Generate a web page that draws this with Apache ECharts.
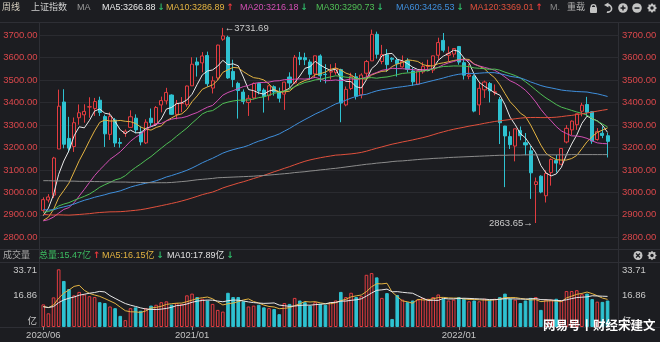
<!DOCTYPE html>
<html>
<head>
<meta charset="utf-8">
<script src="https://cdn.jsdelivr.net/npm/echarts@6/dist/echarts.min.js"></script>
<style>
  html, body { margin: 0; padding: 0; background: #1c1d21; }
  #chart { width: 660px; height: 342px; }
</style>
</head>
<body>
<div id="chart"></div>
<script>
// 上证指数 周线, 2020/06/19 – 2022/08/05
const weeks = [
  '2020/06/19','2020/06/24','2020/07/03','2020/07/10','2020/07/17','2020/07/24','2020/07/31','2020/08/07','2020/08/14','2020/08/21',
  '2020/08/28','2020/09/04','2020/09/11','2020/09/18','2020/09/25','2020/09/30','2020/10/09','2020/10/16','2020/10/23','2020/10/30',
  '2020/11/06','2020/11/13','2020/11/20','2020/11/27','2020/12/04','2020/12/11','2020/12/18','2020/12/25','2020/12/31',
  '2021/01/08','2021/01/15','2021/01/22','2021/01/29','2021/02/05','2021/02/10','2021/02/19','2021/02/26','2021/03/05','2021/03/12',
  '2021/03/19','2021/03/26','2021/04/02','2021/04/09','2021/04/16','2021/04/23','2021/04/30','2021/05/07','2021/05/14','2021/05/21',
  '2021/05/28','2021/06/04','2021/06/11','2021/06/18','2021/06/25','2021/07/02','2021/07/09','2021/07/16','2021/07/23','2021/07/30',
  '2021/08/06','2021/08/13','2021/08/20','2021/08/27','2021/09/03','2021/09/10','2021/09/17','2021/09/24','2021/09/30','2021/10/08',
  '2021/10/15','2021/10/22','2021/10/29','2021/11/05','2021/11/12','2021/11/19','2021/11/26','2021/12/03','2021/12/10','2021/12/17',
  '2021/12/24','2021/12/31',
  '2022/01/07','2022/01/14','2022/01/21','2022/01/28','2022/02/11','2022/02/18','2022/02/25','2022/03/04','2022/03/11','2022/03/18',
  '2022/03/25','2022/04/01','2022/04/08','2022/04/15','2022/04/22','2022/04/29','2022/05/06','2022/05/13','2022/05/20','2022/05/27',
  '2022/06/02','2022/06/10','2022/06/17','2022/06/24','2022/07/01','2022/07/08','2022/07/15','2022/07/22','2022/07/29','2022/08/05'
];

const opens = [
  2920,2966,2988,3193,3402,3240,3204,3332,3345,3380, 3373,3410,3337,3258,3322,3222,3262,3289,3330,3268,
  3220,3330,3305,3389,3407,3433,3347,3395,3390,
  3474,3580,3576,3609,3464,3509,3681,3690,3538,3485, 3446,3400,3420,3484,3455,3430,3470,3446,3437,3513,
  3487,3601,3599,3580,3527,3607,3525,3535,3533,3546, 3389,3462,3514,3434,3530,3585,3703,3582,3612,3597,
  3589,3558,3585,3540,3481,3536,3560,3544,3610,3676, 3610,3615,
  3649,3577,3516,3517,3389,3456,3484,3444,3413,3295, 3248,3206,3275,3221,3185,3035,3072,2985,3088,3142,
  3125,3224,3278,3301,3361,3391,3359,3235,3263,3252
];
const highs = [
  2978,2992,3158,3456.97,3458.79,3336,3333,3391,3392,3423, 3420,3425.63,3346,3356,3331,3242,3280,3365,3347,3294,
  3325,3373,3384,3426,3465,3436,3411,3424,3474.92,
  3601,3600,3624,3626,3516,3657,3731.69,3697,3590,3492, 3458,3433,3489,3489,3463,3476,3476,3466,3492,3534,
  3611,3624.71,3621,3591,3608,3614,3570,3570,3575,3550, 3471,3532,3531,3530,3589,3723.85,3715,3656,3637,3601,
  3599,3609,3597,3555,3543,3579,3590,3607,3688,3708.94, 3649,3642,
  3651,3600,3570,3524,3491,3497,3491,3480,3424,3296, 3271,3283,3293,3264,3207,3066,3076,3098,3151,3167,
  3196,3299,3320,3350,3398.62,3424.84,3361,3286,3294,3265
];
const lows = [
  2910,2955,2975,3193,3196,3178,3180,3301,3310,3332, 3340,3340,3202,3233,3202,3199,3247,3289,3263,3209,
  3215,3292,3296,3356,3391,3344,3325,3357,3381,
  3474,3515,3534,3470,3440,3499,3674,3505,3468,3328, 3392,3340,3413,3436,3355,3409,3430,3400,3367,3466,
  3482,3566,3566,3501,3512,3491,3485,3502,3523,3312, 3383,3455,3413,3418,3507,3585,3595,3570,3536,3580,
  3515,3555,3533,3474,3477,3528,3546,3531,3589,3623, 3582,3601,
  3568,3502,3503,3356,3344,3420,3400,3432,3215,3023.30, 3193,3138,3232,3165,2971,2863.65,2996,2955,3030,3088,
  3120,3218,3255,3278,3338,3340,3216,3230,3241,3155.19
];
const closes = [
  2967.63,2979.55,3152.81,3383.32,3214.13,3196.77,3310.01,3354.04,3360.10,3380.68,
  3403.81,3355.37,3260.35,3338.09,3219.42,3218.05,3272.08,3336.36,3278.00,3224.53,
  3312.16,3310.10,3377.73,3408.31,3444.58,3347.19,3394.90,3396.56,3473.07,
  3570.11,3566.38,3606.75,3483.07,3496.33,3655.09,3696.17,3509.08,3501.99,3453.08,
  3404.66,3418.33,3484.39,3450.68,3426.62,3474.17,3446.86,3418.87,3490.38,3486.56,
  3600.78,3591.84,3589.75,3525.10,3607.56,3518.76,3524.09,3539.30,3550.40,3397.36,
  3458.23,3516.30,3427.33,3522.16,3581.73,3703.11,3613.97,3613.07,3568.17,3592.17,
  3572.37,3582.60,3547.34,3491.57,3539.10,3560.37,3564.09,3607.43,3666.35,3632.36,
  3618.05,3639.78,
  3579.54,3521.26,3522.57,3361.44,3462.95,3490.76,3451.41,3447.65,3309.75,3251.07,
  3212.24,3282.72,3251.85,3211.24,3086.92,3047.06,3001.56,3084.28,3146.57,3130.24,
  3195.47,3284.83,3316.79,3349.75,3387.64,3356.08,3228.06,3269.97,3253.24,3227.03
];
// weekly volume, 亿
const volumes = [
  13.2,8.0,17.3,33.71,26.9,22.2,18.5,20.5,19.0,18.0, 17.5,14.5,14.0,12.0,11.0,6.5,4.0,11.0,11.5,9.5,
  11.0,12.5,13.0,14.5,15.0,13.0,14.0,13.5,18.5,
  19.5,17.5,16.5,15.5,13.5,10.0,9.0,20.0,17.5,17.5, 15.0,12.0,12.5,13.0,11.5,11.0,10.5,7.5,14.0,13.5,
  17.0,15.5,14.5,12.5,14.5,13.5,13.0,14.5,15.5,20.5, 17.5,20.0,17.5,18.0,30.5,31.5,29.0,17.0,19.8,4.7,
  18.7,16.0,14.5,15.5,16.0,17.0,16.5,17.5,19.0,16.5, 15.5,16.0,
  17.5,16.5,15.0,15.5,15.0,16.5,16.0,16.5,17.5,19.5, 16.5,16.0,14.0,15.5,17.0,17.5,10.0,16.0,16.0,16.5,
  15.5,21.0,21.0,21.5,19.15,19.5,16.3,14.8,14.68,15.47
];
// closes and volumes of the weeks before 2020/06/19 (feed the moving averages)
const priorCloses = [
  3199.16,3289.02,3254.53,3307.17,3269.88,3152.76,3168.90,3131.11,3159.05,3071.54,
  3082.23,3091.03,3163.26,3193.30,3141.30,3075.14,3067.15,3021.90,2889.76,2847.42,
  2747.23,2831.18,2829.27,2873.59,2740.44,2795.31,2668.97,2729.43,2725.25,2702.30,
  2681.64,2797.48,2821.35,2606.91,2550.47,2598.85,2676.48,2598.87,2679.11,2579.48,
  2588.19,2605.89,2593.74,2516.25,2493.90,
  2514.87,2553.83,2596.01,2601.72,2618.23,2682.39,2804.23,2994.01,2969.86,3021.75,
  3104.15,3090.76,3246.57,3188.63,3270.80,3086.40,3078.34,2939.21,2882.30,2852.99,
  2898.70,2827.80,2881.97,3001.98,2978.88,3011.06,2930.55,2924.20,2944.54,2867.84,
  2774.75,2823.82,2897.43,2886.24,2999.60,3031.24,3006.45,2932.17,2905.19,2973.66,
  2938.14,2954.93,2958.20,2964.18,2891.34,2885.29,2871.98,2912.01,2967.68,3004.94,3005.04,
  3083.79,3092.29,3075.50,2976.53,2875.96,2917.01,3039.67,2880.30,3034.51,2887.43,
  2745.62,2772.20,2763.99,2796.63,2838.49,2808.53,2860.08,2895.34,2868.46,2813.77,
  2852.35,2930.80,2919.74
];
const priorVolumes = [12.5,11.8,10.5,11.0,12.5,11.2,10.0,13.5,12.0];
// long-term (250-week) average line
const ma250 = [
  3052,3052,3051,3051,3051,3050,3050,3049,3049,3049, 3048,3048,3047,3047,3046,3046,3046,3045,3045,3044,
  3044,3043,3043,3043,3043,3044,3046,3048,3050,3053, 3056,3058,3060,3062,3065,3066,3067,3068,3069,3070,
  3071,3072,3074,3075,3077,3079,3081,3083,3085,3088, 3090,3092,3095,3097,3100,3102,3105,3107,3110,3113,
  3116,3119,3122,3125,3127,3130,3132,3134,3137,3139, 3140,3142,3144,3146,3148,3149,3151,3152,3153,3155,
  3156,3157,3158,3159,3160,3161,3162,3163,3164,3165, 3165,3166,3166,3166,3167,3167,3167,3167,3167,3167,
  3167,3167,3167,3168,3168,3168,3168,3168,3168,3168,3168
];
const priceTicks = [2800,2900,3000,3100,3200,3300,3400,3500,3600,3700];
const volumeTicks = ['33.71','16.86','亿'];
const monthLabels = { 0: '2020/06', 29: '2021/01', 81: '2022/01' };
const maPeriods = [5, 10, 20, 30, 60, 120];
const maColors = ['#e8e8e8', '#e3b341', '#d24fb4', '#4fbf55', '#3f8fdc', '#e0503c'];
const volMaPeriods = [5, 10];

function movingAverage(values, prior, n) {
  const all = prior.concat(values);
  return values.map((_, i) => {
    const end = prior.length + i;
    if (end + 1 < n) return null;
    let s = 0;
    for (let k = end - n + 1; k <= end; k++) s += all[k];
    return s / n;
  });
}

const UP = '#e23c40', DOWN = '#2ec2d1', BG = '#1c1d21', GRID = '#2a2b30';
const maLines = maPeriods.map(n => movingAverage(closes, priorCloses, n));
const volMa = volMaPeriods.map(n => movingAverage(volumes, priorVolumes, n));
const candleData = weeks.map((_, i) => [opens[i], closes[i], lows[i], highs[i]]);
const volData = volumes.map((v, i) => ({
  value: v,
  itemStyle: closes[i] >= opens[i]
    ? { color: BG, borderColor: UP, borderWidth: 1 }
    : { color: DOWN, borderColor: DOWN, borderWidth: 1 }
}));

const FONT = '"Liberation Sans", "Noto Sans CJK SC", sans-serif';
const last = a => a[a.length - 1];
const prev = a => a[a.length - 2];
const measure = document.createElement('canvas').getContext('2d');
function textWidth(text, font) { measure.font = font; return measure.measureText(text).width; }

// header row
const header = [];
function txt(x, y, text, fill, size) {
  const font = (size || 9) + 'px ' + FONT;
  header.push({ type: 'text', x, y, silent: true,
    style: { text, fill, font, verticalAlign: 'middle' } });
  return x + textWidth(text, font);
}
function arrow(x, y, up) {
  header.push({ type: 'text', x, y, silent: true,
    style: { text: up ? '↑' : '↓', fill: up ? '#e5383b' : '#2fb868', font: 'bold 9px "DejaVu Sans", sans-serif', verticalAlign: 'middle' } });
}
txt(2, 8, '周线', '#d6cfc0');
txt(31, 8, '上证指数', '#cfcfcf');
txt(77, 8, 'MA', '#9a9a9a');
const headX = [102, 166, 240, 316, 396, 470];
maPeriods.forEach((n, k) => {
  const v = last(maLines[k]);
  const end = txt(headX[k], 8, 'MA' + n + ':' + v.toFixed(2), maColors[k]);
  arrow(end + 2, 8, v >= prev(maLines[k]));
});
txt(550, 8, 'M.', '#8a8a8a');
txt(567, 8, '重载', '#b0b0b0');

// toolbar glyphs
const ICON = '#c4c4c4';
header.push(
  { type: 'rect', shape: { x: 590, y: 7, width: 7, height: 6, r: 1 }, style: { fill: ICON }, silent: true },
  { type: 'arc', shape: { cx: 593.5, cy: 7, r: 2.3, startAngle: Math.PI, endAngle: 0 }, style: { stroke: ICON, lineWidth: 1.3, fill: null }, silent: true },
  { type: 'arc', shape: { cx: 608, cy: 8.5, r: 3.6, startAngle: -Math.PI * 0.5, endAngle: Math.PI * 0.6 }, style: { stroke: ICON, lineWidth: 1.6, fill: null }, silent: true },
  { type: 'polygon', shape: { points: [[604, 4.9], [608.5, 2.4], [608.5, 7.4]] }, style: { fill: ICON }, silent: true },
  { type: 'circle', shape: { cx: 623, cy: 8, r: 4.8 }, style: { fill: ICON }, silent: true },
  { type: 'rect', shape: { x: 620.5, y: 7.3, width: 5, height: 1.5 }, style: { fill: BG }, silent: true },
  { type: 'rect', shape: { x: 622.25, y: 5.5, width: 1.5, height: 5 }, style: { fill: BG }, silent: true },
  { type: 'circle', shape: { cx: 637, cy: 8, r: 4.8 }, style: { fill: ICON }, silent: true },
  { type: 'rect', shape: { x: 634.5, y: 7.3, width: 5, height: 1.5 }, style: { fill: BG }, silent: true }
);
function gear(cx, cy, r) {
  const pts = [];
  for (let k = 0; k < 16; k++) {
    const a = k * Math.PI / 8;
    const rr = (k % 2 === 0) ? r : r * 0.72;
    pts.push([cx + rr * Math.cos(a), cy + rr * Math.sin(a)]);
  }
  header.push({ type: 'polygon', shape: { points: pts }, style: { fill: ICON }, silent: true });
  header.push({ type: 'circle', shape: { cx, cy, r: r * 0.35 }, style: { fill: BG }, silent: true });
}
gear(652, 8, 5);

// volume header row
txt(3, 255.5, '成交量', '#a8a8a8');
const vLast = last(volumes), vMa5 = last(volMa[0]), vMa10 = last(volMa[1]);
let e = txt(39, 255.5, '总量:' + vLast.toFixed(2) + '亿', '#3dbf62');
arrow(e + 2, 255.5, vLast >= prev(volumes));
e = txt(102, 255.5, 'MA5:' + vMa5.toFixed(2) + '亿', '#e3b341');
arrow(e + 2, 255.5, vMa5 >= prev(volMa[0]));
e = txt(167, 255.5, 'MA10:' + vMa10.toFixed(2) + '亿', '#e0e0e0');
arrow(e + 2, 255.5, vMa10 >= prev(volMa[1]));
header.push(
  { type: 'circle', shape: { cx: 638, cy: 255.5, r: 4.5 }, style: { fill: ICON }, silent: true },
  { type: 'line', shape: { x1: 636, y1: 253.5, x2: 640, y2: 257.5 }, style: { stroke: BG, lineWidth: 1.3 }, silent: true },
  { type: 'line', shape: { x1: 640, y1: 253.5, x2: 636, y2: 257.5 }, style: { stroke: BG, lineWidth: 1.3 }, silent: true }
);
gear(652, 255.5, 4.8);

// volume axis labels
const volLabelY = [270, 295.5, 321];
volumeTicks.forEach((t, k) => {
  header.push({ type: 'text', x: 37, y: volLabelY[k], silent: true,
    style: { text: t, fill: '#c8c8c8', font: '9.5px ' + FONT, align: 'right', verticalAlign: 'middle' } });
  header.push({ type: 'text', x: 622, y: volLabelY[k], silent: true,
    style: { text: t, fill: '#c8c8c8', font: '9.5px ' + FONT, align: 'left', verticalAlign: 'middle' } });
});

// frame lines
const frame = [
  [0, 22.5, 660, 22.5], [0, 249.5, 660, 249.5], [0, 262.5, 660, 262.5], [0, 327.5, 660, 327.5],
  [39.5, 22.5, 39.5, 327.5], [618.5, 22.5, 618.5, 327.5]
].map(p => ({ type: 'line', shape: { x1: p[0], y1: p[1], x2: p[2], y2: p[3] },
  style: { stroke: '#2e2f35', lineWidth: 1 }, silent: true, z: -1 }));

// watermark
const mark = { type: 'text', x: 543, y: 325, silent: true, z: 100,
  style: { text: '网易号丨财经宋建文', fill: '#ffffff', font: 'bold 12.5px "Noto Sans CJK SC", sans-serif',
    verticalAlign: 'middle', shadowBlur: 2, shadowColor: 'rgba(0,0,0,0.6)' } };

// price panel geometry: 2700..3800 mapped so that 2800..3700 sits between y=237.3 and y=35
const P_TOP = 12.52, P_H = 247.3;
const V_TOP = 269.3, V_H = 57.7;
const DATA_LEFT = 40.73, DATA_RIGHT = 660 - 610.13;
const splitColors = [];
for (let v = 2700; v <= 3800; v += 100) splitColors.push(priceTicks.includes(v) ? GRID : 'rgba(0,0,0,0)');

const priceLabel = {
  color: '#d9474b', fontSize: 9.5, fontFamily: FONT,
  formatter: v => priceTicks.includes(v) ? v.toFixed(2) : ''
};

const option = {
  backgroundColor: BG,
  animation: false,
  grid: [
    { left: 39.5, right: 41.5, top: P_TOP, height: P_H },
    { left: DATA_LEFT, right: DATA_RIGHT, top: P_TOP, height: P_H },
    { left: 39.5, right: 41.5, top: V_TOP, height: V_H },
    { left: DATA_LEFT, right: DATA_RIGHT, top: V_TOP, height: V_H }
  ],
  xAxis: [
    { gridIndex: 0, type: 'value', show: false, min: 0, max: 1 },
    { gridIndex: 1, type: 'category', data: weeks, show: false, boundaryGap: true },
    { gridIndex: 2, type: 'value', show: false, min: 0, max: 1 },
    { gridIndex: 3, type: 'category', data: weeks, boundaryGap: true,
      axisLine: { show: false },
      axisTick: { show: true, alignWithLabel: true, length: 3, lineStyle: { color: '#8a8a8a' },
        interval: i => monthLabels[i] !== undefined },
      axisLabel: { color: '#c4c4c4', fontSize: 9.5, fontFamily: FONT, margin: 4,
        interval: i => monthLabels[i] !== undefined, formatter: (v, i) => monthLabels[i] || '' },
      splitLine: { show: false } }
  ],
  yAxis: [
    { gridIndex: 0, type: 'value', min: 2700, max: 3800, interval: 100, position: 'left',
      axisLine: { show: false }, axisTick: { show: false },
      axisLabel: Object.assign({ margin: 2 }, priceLabel),
      splitLine: { show: true, lineStyle: { color: splitColors, width: 1 } } },
    { gridIndex: 0, type: 'value', min: 2700, max: 3800, interval: 100, position: 'right',
      axisLine: { show: false }, axisTick: { show: false },
      axisLabel: Object.assign({ margin: 3.5 }, priceLabel),
      splitLine: { show: false } },
    { gridIndex: 1, type: 'value', min: 2700, max: 3800, show: false, splitLine: { show: false } },
    { gridIndex: 2, type: 'value', min: 0, max: 33.71, show: false, splitLine: { show: false } },
    { gridIndex: 3, type: 'value', min: 0, max: 33.71, show: false, splitLine: { show: false } }
  ],
  series: [
    {
      type: 'candlestick', xAxisIndex: 1, yAxisIndex: 2, data: candleData, barWidth: 3.6,
      itemStyle: { color: BG, color0: DOWN, borderColor: UP, borderColor0: DOWN, borderWidth: 1 },
      markPoint: {
        symbol: 'circle', symbolSize: 0, silent: true,
        data: [
          { coord: [35, 3731.69], value: 3731.69,
            label: { show: true, position: 'right', distance: 2, formatter: '←3731.69', color: '#c9c9c9', fontSize: 9.5, fontFamily: FONT } },
          { coord: [96, 2863.65], value: 2863.65,
            label: { show: true, position: 'left', distance: 3, formatter: '2863.65→', color: '#c9c9c9', fontSize: 9.5, fontFamily: FONT } }
        ]
      },
      z: 3
    },
    ...maPeriods.map((n, k) => ({
      type: 'line', name: 'MA' + n, xAxisIndex: 1, yAxisIndex: 2, data: maLines[k],
      showSymbol: false, smooth: false, lineStyle: { color: maColors[k], width: 1 }, z: 4
    })),
    { type: 'line', name: 'MA250', xAxisIndex: 1, yAxisIndex: 2, data: ma250, showSymbol: false,
      lineStyle: { color: '#8c8c8c', width: 1 }, z: 4 },
    { type: 'bar', xAxisIndex: 3, yAxisIndex: 4, data: volData, barWidth: 3.6, z: 3 },
    { type: 'line', xAxisIndex: 3, yAxisIndex: 4, data: volMa[0], showSymbol: false,
      lineStyle: { color: '#e3b341', width: 1 }, z: 4 },
    { type: 'line', xAxisIndex: 3, yAxisIndex: 4, data: volMa[1], showSymbol: false,
      lineStyle: { color: '#e8e8e8', width: 1 }, z: 4 }
  ],
  graphic: frame.concat(header, [mark])
};

echarts.init(document.getElementById('chart'), null, { renderer: 'canvas' }).setOption(option);
</script>
</body>
</html>
